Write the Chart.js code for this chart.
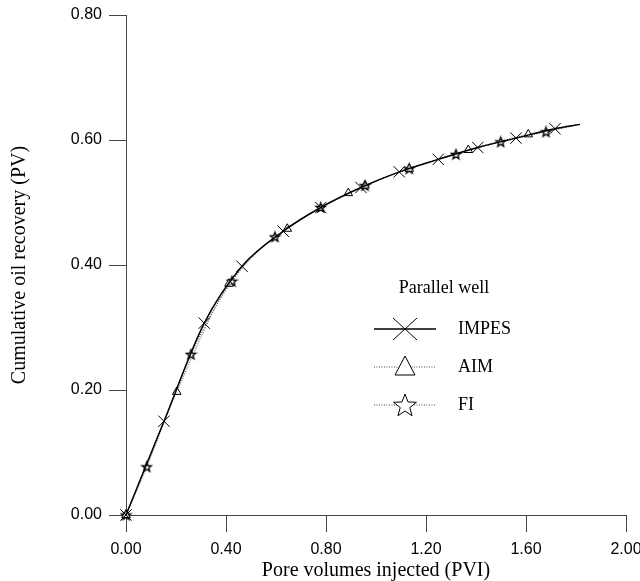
<!DOCTYPE html>
<html><head><meta charset="utf-8">
<script src="https://cdn.jsdelivr.net/npm/chart.js@4/dist/chart.umd.min.js"></script>
<style>html,body{margin:0;padding:0;background:#fff}#wrap{width:640px;height:581px}</style>
</head><body><div id="wrap"><canvas id="c" width="640" height="581"></canvas></div>
<script>
// ---- data ----
const impesX = [0, 0.152, 0.313, 0.464, 0.629, 0.779, 0.940, 1.093, 1.249, 1.407, 1.560, 1.716, 1.816];
const impesY = [0, 0.150, 0.307, 0.398, 0.454, 0.492, 0.524, 0.549, 0.569, 0.588, 0.603, 0.618, 0.625];
const aimX = [0, 0.203, 0.412, 0.645, 0.889, 0.956, 1.133, 1.369, 1.609, 1.816];
const aimY = [0, 0.197, 0.370, 0.458, 0.515, 0.527, 0.554, 0.584, 0.609, 0.625];
const fiX = [0, 0.083, 0.260, 0.424, 0.596, 0.779, 0.956, 1.133, 1.320, 1.499, 1.680, 1.816];
const fiY = [0, 0.077, 0.257, 0.374, 0.445, 0.492, 0.527, 0.554, 0.577, 0.597, 0.613, 0.625];
const seriesNames = ['IMPES', 'AIM', 'FI'];
const legendTitle = 'Parallel well';
const xTitle = 'Pore volumes injected (PVI)';
const yTitle = 'Cumulative oil recovery (PV)';
const xTicks = [0, 0.4, 0.8, 1.2, 1.6, 2.0];
const yTicks = [0, 0.2, 0.4, 0.6, 0.8];

const SERIF = '"Liberation Serif", "Times New Roman", serif';
const SANS = '"Liberation Sans", Arial, sans-serif';

function starPath(g, cx, cy, R) {
  const r = R * 0.42;
  g.beginPath();
  for (let i = 0; i < 10; i++) {
    const a = -Math.PI / 2 + i * Math.PI / 5;
    const rr = i % 2 === 0 ? R : r;
    const px = cx + rr * Math.cos(a), py = cy + rr * Math.sin(a);
    if (i === 0) g.moveTo(px, py); else g.lineTo(px, py);
  }
  g.closePath();
}
function makeStar(R) {
  const c = document.createElement('canvas');
  const s = Math.ceil(R * 2 + 3);
  c.width = s; c.height = s;
  const g = c.getContext('2d');
  starPath(g, s / 2, s / 2 + R * 0.08, R);
  g.fillStyle = '#fff'; g.fill();
  g.strokeStyle = '#000'; g.lineWidth = 1.4; g.stroke();
  return c;
}
const starImg = makeStar(5);

const pts = (xs, ys) => xs.map((x, i) => ({x, y: ys[i]}));
const lastHidden = (r) => (ctx) => ctx.dataIndex === ctx.dataset.data.length - 1 ? 0 : r;

const legendPlugin = {
  id: 'customLegend',
  afterDraw(chart) {
    const ctx = chart.ctx;
    ctx.save();
    ctx.fillStyle = '#000';
    ctx.textBaseline = 'middle';
    ctx.font = '18px ' + SERIF;
    ctx.textAlign = 'center';
    ctx.fillText(legendTitle, 444, 288);
    const rows = [329, 367, 405];
    const x0 = 374, x1 = 436, mx = 405, tx = 458;
    rows.forEach((y, i) => {
      ctx.beginPath();
      ctx.moveTo(x0, y); ctx.lineTo(x1, y);
      if (i === 0) { ctx.setLineDash([]); ctx.lineWidth = 1.5; ctx.strokeStyle = '#000'; }
      else { ctx.setLineDash([1, 1.5]); ctx.lineWidth = 1; ctx.strokeStyle = '#444'; }
      ctx.stroke();
      ctx.setLineDash([]);
      ctx.strokeStyle = '#000'; ctx.lineWidth = 1;
      if (i === 0) {
        ctx.beginPath();
        ctx.moveTo(mx - 12, y - 11); ctx.lineTo(mx + 12, y + 11);
        ctx.moveTo(mx - 12, y + 11); ctx.lineTo(mx + 12, y - 11);
        ctx.stroke();
      } else if (i === 1) {
        ctx.beginPath();
        ctx.moveTo(mx, y - 11); ctx.lineTo(mx + 10, y + 8); ctx.lineTo(mx - 10, y + 8);
        ctx.closePath();
        ctx.fillStyle = '#fff'; ctx.fill(); ctx.stroke();
      } else {
        starPath(ctx, mx, y + 1, 12);
        ctx.fillStyle = '#fff'; ctx.fill(); ctx.stroke();
      }
      ctx.fillStyle = '#000';
      ctx.textAlign = 'left';
      ctx.fillText(seriesNames[i], tx, y);
    });
    ctx.restore();
  }
};

new Chart(document.getElementById('c'), {
  type: 'line',
  data: {
    datasets: [
      { label: seriesNames[0], data: pts(impesX, impesY), borderColor: '#000', borderWidth: 1.5,
        pointStyle: 'crossRot', pointRadius: lastHidden(8), pointBorderColor: '#000', pointBorderWidth: 1,
        pointBackgroundColor: 'rgba(0,0,0,0)', cubicInterpolationMode: 'monotone', clip: false, order: 0 },
      { label: seriesNames[1], data: pts(aimX, aimY), borderColor: '#444', borderWidth: 1, borderDash: [1, 1.5],
        pointStyle: 'triangle', pointRadius: lastHidden(5), pointBorderColor: '#000', pointBorderWidth: 1,
        pointBackgroundColor: 'rgba(255,255,255,0.6)', cubicInterpolationMode: 'monotone', clip: false, order: 1 },
      { label: seriesNames[2], data: pts(fiX, fiY), borderColor: '#444', borderWidth: 1, borderDash: [1, 1.5],
        pointStyle: starImg, pointRadius: lastHidden(5), cubicInterpolationMode: 'monotone', clip: false, order: 2 }
    ]
  },
  options: {
    responsive: false, animation: false,
    layout: { padding: { left: 4, right: 14, top: 15, bottom: 0 } },
    plugins: { legend: { display: false }, tooltip: { enabled: false } },
    scales: {
      x: {
        type: 'linear', min: 0, max: 2,
        afterBuildTicks: s => { s.ticks = xTicks.map(v => ({value: v})); },
        afterFit: s => { s.height = 66; s.paddingLeft = 0; s.paddingRight = 0; },
        ticks: { callback: v => Number(v).toFixed(2), font: { family: SANS, size: 16 }, color: '#000', padding: 8, maxRotation: 0, autoSkip: false },
        grid: { drawOnChartArea: false, drawTicks: true, tickLength: 17, color: '#444', lineWidth: 1 },
        border: { display: true, color: '#444', width: 1 },
        title: { display: true, text: xTitle, font: { family: SERIF, size: 20, lineHeight: 1.0 }, color: '#000', padding: { top: 0, bottom: 0 } }
      },
      y: {
        type: 'linear', min: 0, max: 0.8,
        afterBuildTicks: s => { s.ticks = yTicks.map(v => ({value: v})); },
        afterFit: s => { s.width = 122; s.paddingTop = 0; s.paddingBottom = 0; },
        ticks: { callback: v => Number(v).toFixed(2), font: { family: SANS, size: 16 }, color: '#000', padding: 7, autoSkip: false },
        grid: { drawOnChartArea: false, drawTicks: true, tickLength: 17, color: '#444', lineWidth: 1 },
        border: { display: true, color: '#444', width: 1 },
        title: { display: true, text: yTitle, font: { family: SERIF, size: 20, lineHeight: 1.2 }, color: '#000', padding: { top: 4, bottom: 0 } }
      }
    }
  },
  plugins: [legendPlugin]
});
</script>
</body></html>
